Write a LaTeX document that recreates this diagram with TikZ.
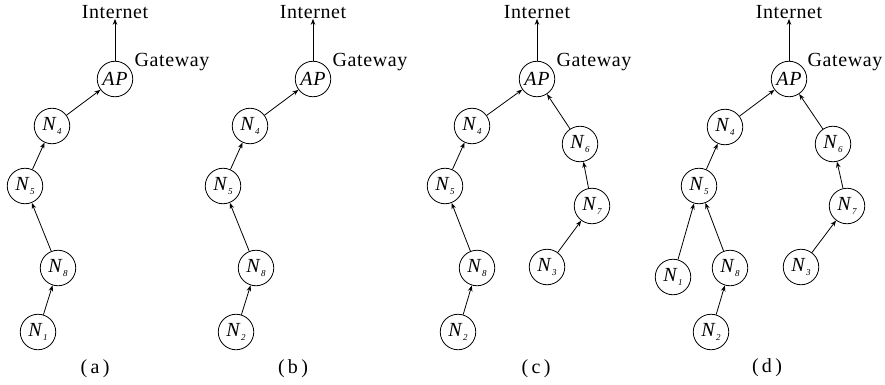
\documentclass[tikz,border=0pt]{standalone}
\usepackage{fontspec}
\setmainfont{Liberation Serif}
\newfontfamily\labfont[LetterSpace=3]{Liberation Serif}
\usetikzlibrary{arrows.meta}
\newcommand{\nd}[1]{\textit{N}\kern0.3pt\raisebox{-0.45ex}{\fontsize{9}{9}\selectfont\itshape #1}}
\tikzset{
  nodec/.style={circle,draw,line width=0.8pt,minimum size=35.5pt,inner sep=0pt,font=\fontsize{20}{20}\selectfont},
  lab/.style={font=\labfont\fontsize{20}{20}\selectfont,inner sep=0pt},
  edge/.style={line width=0.8pt,-{Stealth[length=6pt,width=4.5pt]}},
}
\begin{document}
\begin{tikzpicture}[x=1pt,y=-1pt]
\useasboundingbox (0,0) rectangle (885,385);
% ---------- (a)
\node[nodec] (aAP) at (115,79) {\labfont\itshape AP};
\node[lab] (aI) at (115,12) {Internet};
\node[lab] (aG) at (172,62) {Gateway};
\node[nodec] (aN4) at (52,126) {\nd{4}};
\node[nodec] (aN5) at (25,186) {\nd{5}};
\node[nodec] (aN8) at (58,268) {\nd{8}};
\node[nodec] (aN1) at (38,332) {\nd{1}};
\node[lab] (aL) at (95,369) {(\,a\,)};
\draw[edge] (aAP) -- (aI);
\draw[edge] (aN4) -- (aAP);
\draw[edge] (aN5) -- (aN4);
\draw[edge] (aN8) -- (aN5);
\draw[edge] (aN1) -- (aN8);
% ---------- (b)
\node[nodec] (bAP) at (313,79) {\labfont\itshape AP};
\node[lab] (bI) at (313,12) {Internet};
\node[lab] (bG) at (370,62) {Gateway};
\node[nodec] (bN4) at (250,126) {\nd{4}};
\node[nodec] (bN5) at (223,186) {\nd{5}};
\node[nodec] (bN8) at (256,268) {\nd{8}};
\node[nodec] (bN2) at (236,332) {\nd{2}};
\node[lab] (bL) at (293,369) {(\,b\,)};
\draw[edge] (bAP) -- (bI);
\draw[edge] (bN4) -- (bAP);
\draw[edge] (bN5) -- (bN4);
\draw[edge] (bN8) -- (bN5);
\draw[edge] (bN2) -- (bN8);
% ---------- (c)
\node[nodec] (cAP) at (537,79) {\labfont\itshape AP};
\node[lab] (cI) at (537,12) {Internet};
\node[lab] (cG) at (594,62) {Gateway};
\node[nodec] (cN4) at (472,126) {\nd{4}};
\node[nodec] (cN5) at (445,186) {\nd{5}};
\node[nodec] (cN8) at (477,268) {\nd{8}};
\node[nodec] (cN2) at (458,332) {\nd{2}};
\node[nodec] (cN6) at (580,144) {\nd{6}};
\node[nodec] (cN7) at (592,206) {\nd{7}};
\node[nodec] (cN3) at (547,267) {\nd{3}};
\node[lab] (cL) at (536,369) {(\,c\,)};
\draw[edge] (cAP) -- (cI);
\draw[edge] (cN4) -- (cAP);
\draw[edge] (cN5) -- (cN4);
\draw[edge] (cN8) -- (cN5);
\draw[edge] (cN2) -- (cN8);
\draw[edge] (cN6) -- (cAP);
\draw[edge] (cN7) -- (cN6);
\draw[edge] (cN3) -- (cN7);
% ---------- (d)
\node[nodec] (dAP) at (789,79) {\labfont\itshape AP};
\node[lab] (dI) at (789,12) {Internet};
\node[lab] (dG) at (845,62) {Gateway};
\node[nodec] (dN4) at (725,127) {\nd{4}};
\node[nodec] (dN5) at (699,186) {\nd{5}};
\node[nodec] (dN8) at (730,268) {\nd{8}};
\node[nodec] (dN2) at (711,332) {\nd{2}};
\node[nodec] (dN1) at (673,277) {\nd{1}};
\node[nodec] (dN6) at (833,144) {\nd{6}};
\node[nodec] (dN7) at (847,206) {\nd{7}};
\node[nodec] (dN3) at (801,267) {\nd{3}};
\node[lab] (dL) at (767,368) {(\,d\,)};
\draw[edge] (dAP) -- (dI);
\draw[edge] (dN4) -- (dAP);
\draw[edge] (dN5) -- (dN4);
\draw[edge] (dN8) -- (dN5);
\draw[edge] (dN1) -- (dN5);
\draw[edge] (dN2) -- (dN8);
\draw[edge] (dN6) -- (dAP);
\draw[edge] (dN7) -- (dN6);
\draw[edge] (dN3) -- (dN7);
\end{tikzpicture}
\end{document}
